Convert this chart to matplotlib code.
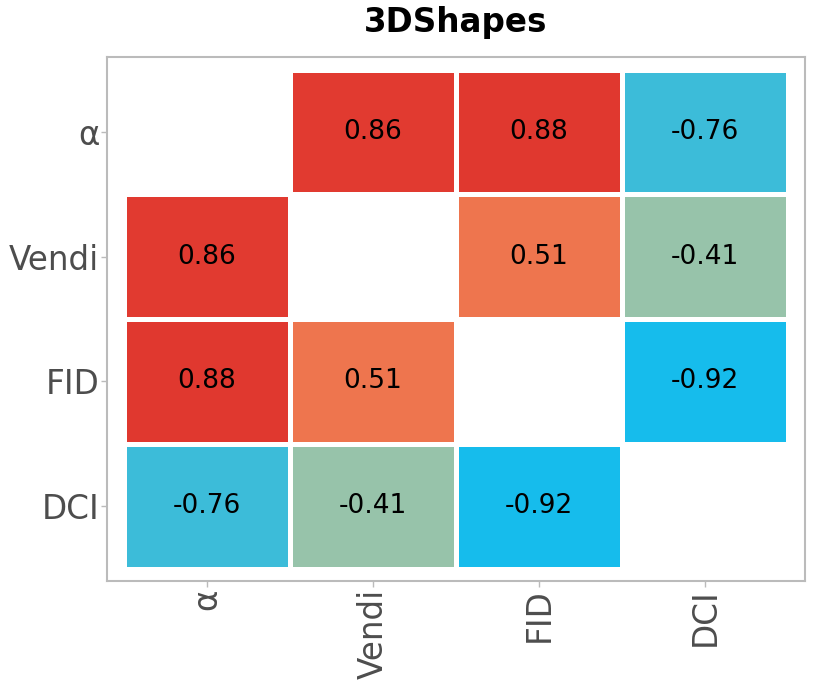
import matplotlib.pyplot as plt
from matplotlib.patches import Rectangle
from matplotlib.colors import LinearSegmentedColormap, Normalize
import numpy as np

metrics = ['α', 'Vendi', 'FID', 'DCI']
corr = np.array([
    [np.nan, 0.86, 0.88, -0.76],
    [0.86, np.nan, 0.51, -0.41],
    [0.88, 0.51, np.nan, -0.92],
    [-0.76, -0.41, -0.92, np.nan],
])

vmin, vmax = -0.92, 0.88
stops = [(-0.92, '#16BCEC'), (-0.76, '#3DBCD8'), (-0.41, '#97C3AA'),
         (0.51, '#EE754E'), (0.88, '#E0382F')]
cmap = LinearSegmentedColormap.from_list(
    'corr', [((v - vmin) / (vmax - vmin), c) for v, c in stops])
norm = Normalize(vmin, vmax)

fig = plt.figure(figsize=(8.14, 6.98), dpi=100)
ax = fig.add_axes([0.1314, 0.1676, 0.8575, 0.7507])

n = len(metrics)
for i in range(n):
    for j in range(n):
        val = corr[i, j]
        if np.isnan(val):
            continue
        ax.add_patch(Rectangle((j + 0.5, i + 0.5), 1, 1,
                               facecolor=cmap(norm(val)),
                               edgecolor='white', linewidth=3.6))
        ax.text(j + 1, i + 1, f'{val:.2f}', ha='center', va='center',
                fontsize=19, color='black')

ax.set_xlim(0.4, n + 0.6)
ax.set_ylim(n + 0.6, 0.4)
ax.set_xticks(range(1, n + 1))
ax.set_yticks(range(1, n + 1))
ax.set_xticklabels(metrics, rotation=90, fontsize=23.5, color='#4D4D4D')
ax.set_yticklabels(metrics, fontsize=23.5, color='#4D4D4D')
ax.tick_params(length=4, width=1, color='#BBBBBB', pad=1.5)
for s in ax.spines.values():
    s.set_color('#BBBBBB')
    s.set_linewidth(1.5)

ax.set_title('3DShapes', fontsize=23.5, fontweight='bold', pad=18)

fig.savefig('out.png', dpi=100)
